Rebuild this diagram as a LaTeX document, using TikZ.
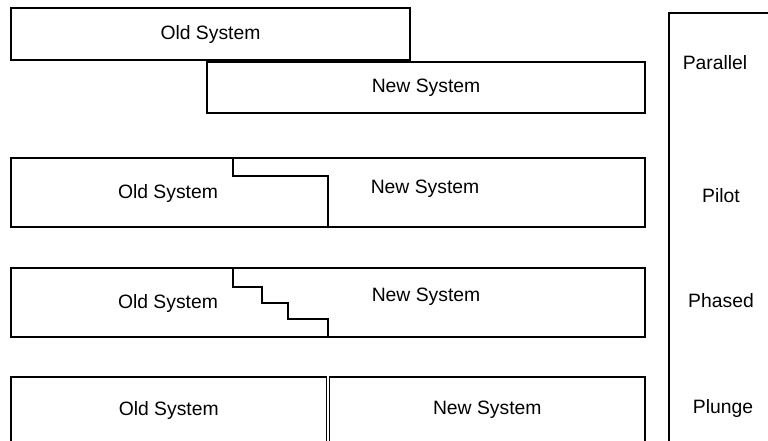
\documentclass[tikz,border=0pt]{standalone}
\usepackage{fontspec}
\setmainfont{Liberation Sans}
\tikzset{
	sysbox/.style={rectangle,draw,line width=0.8pt,inner sep=0pt,font=\fontsize{14.5}{17}\selectfont},
	outline/.style={draw,line width=0.8pt},
	tag/.style={font=\fontsize{14.5}{17}\selectfont}
}

\begin{document}
\begin{tikzpicture}[x=0.75pt,y=-0.75pt]
	\clip (0,0) rectangle (768,440);
	% parallel
	\node[sysbox,minimum width=299.25pt,minimum height=39pt] (old1) at (210.5,34) {Old System};
	\node[sysbox,minimum width=328.5pt,minimum height=38.25pt] (new1) at (426,87.5) {New System};
	% pilot
	\draw[outline] (11,158) rectangle (645,227);
	\draw[outline] (233,158) -- (233,176) -- (328,176) -- (328,227);
	\node[tag] (old2) at (168,193) {Old System};
	\node[tag] (new2) at (425,189) {New System};
	% phased
	\draw[outline] (11,268) rectangle (645,337);
	\draw[outline] (233,268) -- (233,287) -- (262,287) -- (262,303) -- (288,303) -- (288,319) -- (328,319) -- (328,337);
	\node[tag] (old3) at (168,303) {Old System};
	\node[tag] (new3) at (426,297) {New System};
	% plunge
	\node[sysbox,minimum width=236.6pt,minimum height=49.5pt] (old4) at (168.75,410) {Old System};
	\node[sysbox,minimum width=236.6pt,minimum height=49.5pt] (new4) at (487.25,410) {New System};
	
	% methods column
	\draw[outline] (770,13) -- (669,13) -- (669,442);
	\node[tag] (parallel) at (715,63) {Parallel};
	\node[tag] (pilot) at (721,196) {Pilot};
	\node[tag] (phased) at (721,301) {Phased};
	\node[tag] (plunge) at (723,408) {Plunge};
\end{tikzpicture}
\end{document}
